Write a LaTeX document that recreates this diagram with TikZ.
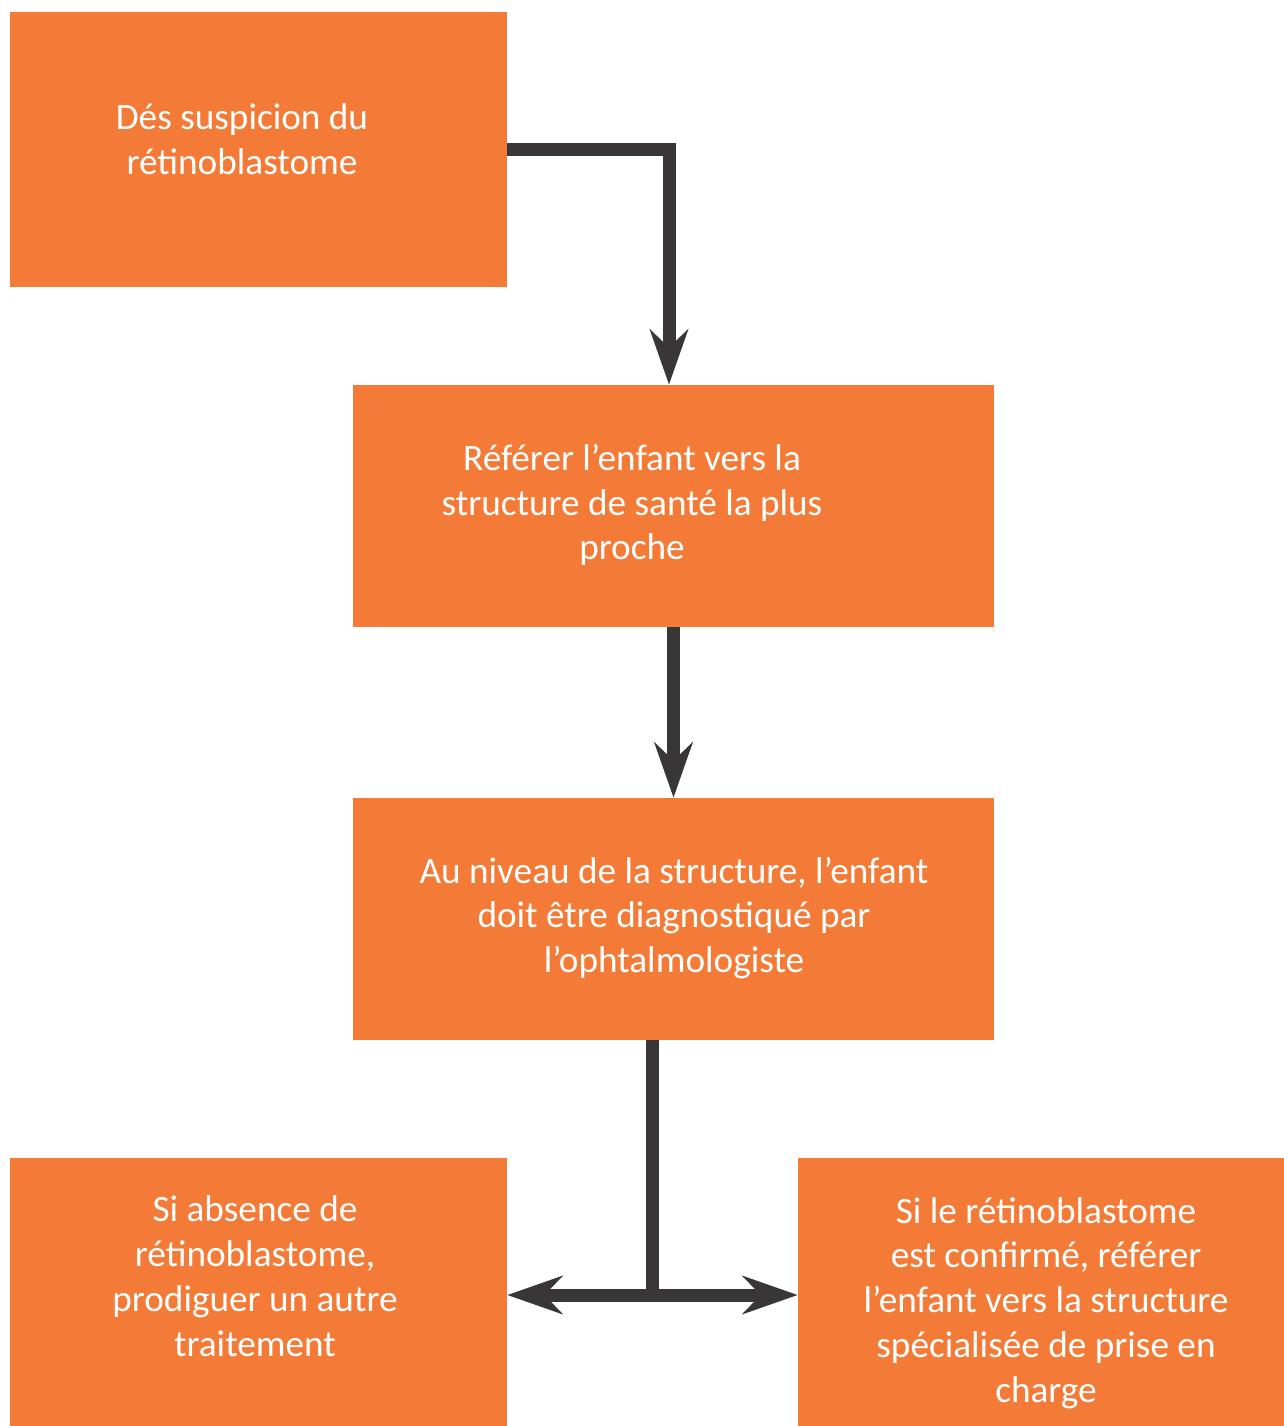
\documentclass[tikz,border=0pt]{standalone}
\usepackage{fontspec}
\setmainfont{Carlito}
\usetikzlibrary{arrows.meta}
\definecolor{boxorange}{HTML}{F47B37}
\definecolor{arrowgray}{HTML}{383637}
\tikzset{
  box/.style={fill=boxorange, draw=none, inner sep=0pt},
  txt/.style={text=white, align=center, font=\fontsize{21.2}{25.5}\selectfont},
  link/.style={draw=arrowgray, line width=0.26cm, line join=miter},
  tip/.style={-{Stealth[length=1.1cm, width=0.76cm, inset=0.36cm]}}
}
\begin{document}
\begin{tikzpicture}[x=0.02cm, y=-0.02cm]
\useasboundingbox (0,0) rectangle (1284,1426);
% boxes
\node[box, minimum width=9.94cm, minimum height=5.5cm] (susp) at (258.5,149.5) {};
\node[box, minimum width=12.82cm, minimum height=4.84cm] (refer) at (673.5,506) {};
\node[box, minimum width=12.82cm, minimum height=4.84cm] (diag) at (673.5,919) {};
\node[box, minimum width=9.94cm, minimum height=5.36cm] (absent) at (258.5,1292) {};
\node[box, minimum width=9.72cm, minimum height=5.36cm] (confirm) at (1041,1292) {};

% texts
\node[txt] (tsusp) at (242,139) {Dés suspicion du\\rétinoblastome};
\node[txt] (trefer) at (632,505) {Référer l’enfant vers la\\structure de santé la plus\\proche};
\node[txt] (tdiag) at (674,918) {Au niveau de la structure, l’enfant\\doit être diagnostiqué par\\l’ophtalmologiste};
\node[txt] (tabsent) at (255,1276) {Si absence de\\rétinoblastome,\\prodiguer un autre\\traitement};
\node[txt] (tconfirm) at (1046,1303) {Si le rétinoblastome\\est confirmé, référer\\l’enfant vers la structure\\spécialisée de prise en\\charge};

% connectors
\draw[link, tip] (susp.east) -| ([xshift=-0.09cm]refer.north);
\draw[link, tip] (refer.south) -- (diag.north);
\coordinate (split) at (652,1295);
\draw[link] (diag.south -| split) -- (split);
\draw[link, tip] (split) -- (absent.east |- split);
\draw[link, tip] (split) -- (confirm.west |- split);
\end{tikzpicture}
\end{document}
